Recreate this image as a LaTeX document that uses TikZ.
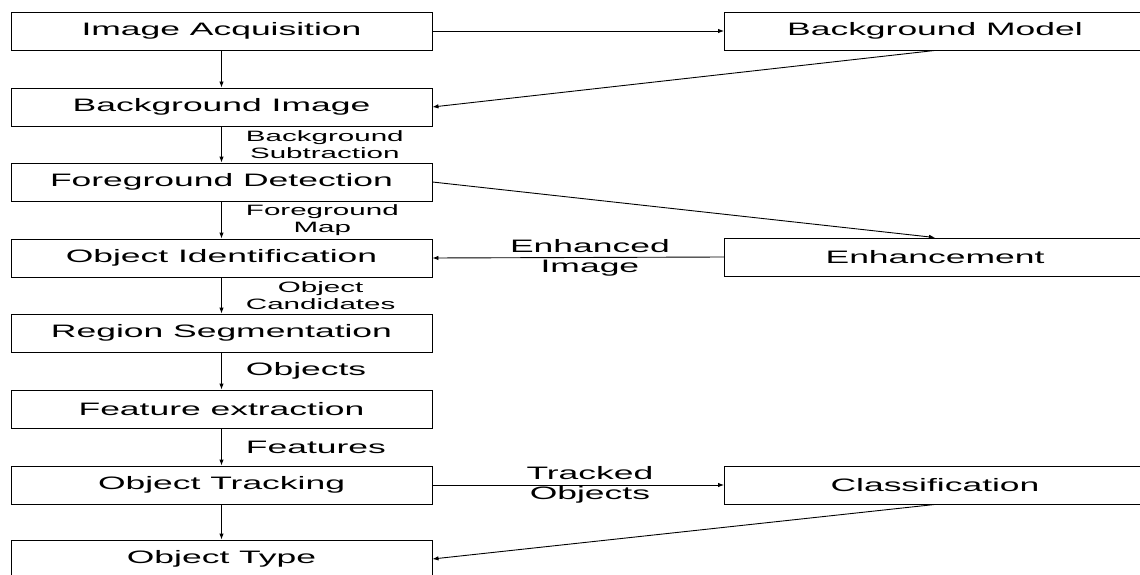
\documentclass[tikz,border=0pt]{standalone}
\usepackage{fontspec}
\setmainfont[FakeStretch=1.97]{Liberation Sans}
\usetikzlibrary{arrows.meta}
\tikzset{
  blk/.style={draw, minimum width=421pt, minimum height=38pt, inner sep=0pt,
    font=\fontsize{18}{20}\selectfont},
  lbl/.style={align=center, inner sep=0pt, font=\fontsize{15}{17}\selectfont},
  biglbl/.style={align=center, inner sep=0pt, font=\fontsize{18}{20}\selectfont},
  arr/.style={-{Latex[length=6pt,width=4.5pt]}}
}
\begin{document}
\begin{tikzpicture}[x=1pt,y=-1pt,line width=0.9pt]
  \useasboundingbox (0,0) rectangle (1140,575);
  \clip (0,0) rectangle (1140,575);
  %Main chain
  \node[blk] (IA) at (221.5,31) {Image Acquisition};
  \node[blk] (BI) at (221.5,107) {Background Image};
  \node[blk] (FD) at (221.5,182) {Foreground Detection};
  \node[blk] (OI) at (221.5,258) {Object Identification};
  \node[blk] (RS) at (221.5,333) {Region Segmentation};
  \node[blk] (FE) at (221.5,409) {Feature extraction};
  \node[blk] (OT) at (221.5,485) {Object Tracking};
  \node[blk] (TY) at (221.5,559) {Object Type};
  %Side boxes
  \node[blk] (BM) at (935,31) {Background Model};
  \node[blk] (EN) at (935,257) {Enhancement};
  \node[blk] (CL) at (935,485) {Classification};

  %Down the chain
  \draw[arr] (IA) -- (BI);
  \draw[arr] (BI) -- node[lbl, right=24pt] {Background\\Subtraction} (FD);
  \draw[arr] (FD) -- node[lbl, right=24pt] {Foreground\\Map} (OI);
  \draw[arr] (OI) -- node[lbl, right=24pt] {Object\\Candidates} (RS);
  \draw[arr] (RS) -- node[biglbl, right=24pt] {Objects} (FE);
  \draw[arr] (FE) -- node[biglbl, right=24pt] {Features} (OT);
  \draw[arr] (OT) -- (TY);

  %Background model loop
  \draw[arr] (IA.east) -- (BM.west);
  \draw[arr] (BM.south) -- (BI.east);
  %Enhancement loop
  \draw[arr] (FD.east) -- (EN.north);
  \draw[arr] (EN.west) -- node[biglbl, pos=0.46] {Enhanced\\Image} (OI.east);
  %Classification loop
  \draw[arr] (OT.east) -- node[biglbl, pos=0.54] {Tracked\\Objects} (CL.west);
  \draw[arr] (CL.south) -- (TY.east);
\end{tikzpicture}
\end{document}
